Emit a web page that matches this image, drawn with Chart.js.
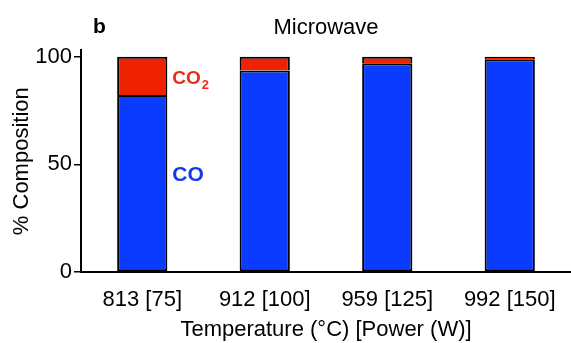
<!DOCTYPE html>
<html>
<head>
<meta charset="utf-8">
<script src="https://cdn.jsdelivr.net/npm/chart.js@4"></script>
<style>
  html, body { margin: 0; padding: 0; background: #fff; }
  #wrap { width: 571px; height: 343px; position: relative; }
</style>
</head>
<body>
<div id="wrap"><canvas id="chart"></canvas></div>
<script>
// values (% of gas product)
var categories = ['813 [75]', '912 [100]', '959 [125]', '992 [150]'];
var coValues = [82.3, 93.6, 97.0, 98.9];
var co2Values = [17.7, 6.4, 3.0, 1.1];
var yTicks = [0, 50, 100];

var FONT = "'Liberation Sans', Arial, sans-serif";

// panel letter + the CO / CO2 labels next to the first bar
var labelPlugin = {
  id: 'labels',
  afterDraw: function(chart) {
    var ctx = chart.ctx;
    var y = chart.scales.y;
    var bar = chart.getDatasetMeta(0).data[0];
    var x0 = bar.x + bar.width / 2 + 5;
    ctx.save();
    ctx.textBaseline = 'alphabetic';
    ctx.textAlign = 'left';

    ctx.fillStyle = '#000';
    ctx.font = 'bold 21px ' + FONT;
    ctx.fillText('b', 93, 33);

    ctx.fillStyle = '#ee2a10';
    ctx.font = 'bold 19px ' + FONT;
    var base = y.getPixelForValue(90.7) + 7;
    ctx.fillText('CO', x0, base);
    var w = ctx.measureText('CO').width;
    ctx.font = 'bold 13px ' + FONT;
    ctx.fillText('2', x0 + w + 1, base + 5);

    ctx.fillStyle = '#1238f0';
    ctx.font = 'bold 21px ' + FONT;
    ctx.fillText('CO', x0, y.getPixelForValue(46) + 7.5);
    ctx.restore();
  }
};

var ctx = document.getElementById('chart').getContext('2d');
var myChart = new Chart(ctx, {
  type: 'bar',
  data: {
    labels: categories,
    datasets: [{
      label: 'CO',
      data: coValues,
      backgroundColor: '#0a3bff',
      borderColor: '#000',
      borderWidth: 2,
      borderSkipped: false,
      barPercentage: 0.41,
      categoryPercentage: 1
    }, {
      label: 'CO2',
      data: co2Values,
      backgroundColor: '#ee2200',
      borderColor: '#000',
      // no bottom edge: the blue bar's top border already separates them
      borderWidth: { top: 2, left: 2, right: 2, bottom: 0 },
      borderSkipped: false,
      barPercentage: 0.41,
      categoryPercentage: 1
    }]
  },
  options: {
    responsive: true,
    maintainAspectRatio: false,
    animation: false,
    layout: { padding: 0 },
    plugins: {
      legend: { display: false },
      tooltip: { enabled: false },
      title: {
        display: true,
        text: 'Microwave',
        fullSize: false,
        color: '#000',
        font: { family: FONT, size: 22, weight: 'normal' },
        padding: { top: 15, bottom: 9 }
      }
    },
    scales: {
      x: {
        stacked: true,
        grid: { display: true, drawOnChartArea: false, drawTicks: false },
        border: { color: '#000', width: 2 },
        ticks: { color: '#000', padding: 15, font: { family: FONT, size: 22 } },
        title: {
          display: true,
          text: 'Temperature (°C) [Power (W)]',
          color: '#000',
          font: { family: FONT, size: 22 },
          padding: 0
        },
        afterFit: function(scale) { scale.height = 71; }
      },
      y: {
        stacked: true,
        min: 0,
        max: 103,
        afterBuildTicks: function(scale) {
          scale.ticks = yTicks.map(function(v) { return { value: v }; });
        },
        grid: { drawOnChartArea: false, drawTicks: true, tickLength: 7, color: '#000', lineWidth: 1.5 },
        border: { color: '#000', width: 2 },
        ticks: { color: '#000', padding: 2, font: { family: FONT, size: 22 } },
        title: {
          display: true,
          text: '% Composition',
          color: '#000',
          font: { family: FONT, size: 22 },
          padding: { top: 9, bottom: 0 }
        },
        afterFit: function(scale) { scale.width = 81; }
      }
    }
  },
  plugins: [labelPlugin]
});
</script>
</body>
</html>
